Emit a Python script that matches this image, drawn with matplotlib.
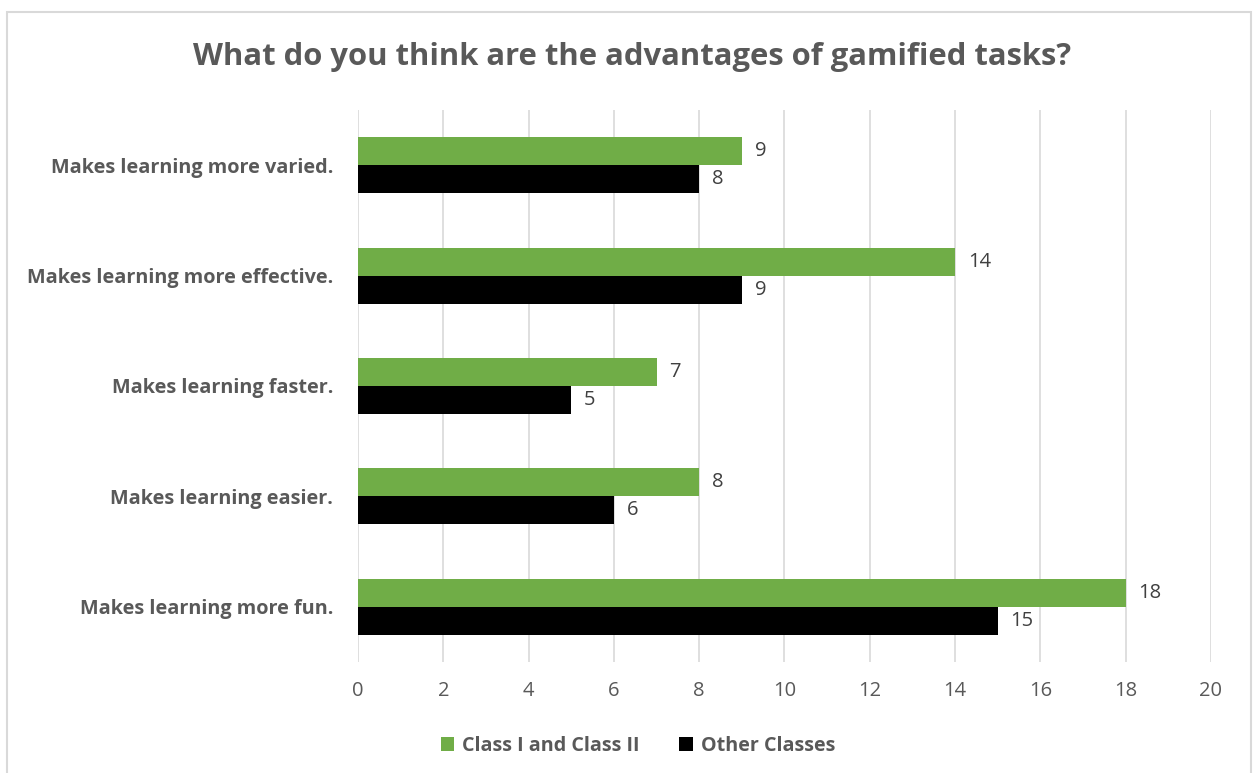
import matplotlib.pyplot as plt
from matplotlib.patches import Rectangle
import numpy as np

plt.rcParams['font.family'] = ['Open Sans', 'DejaVu Sans']

# survey answers, listed bottom to top
categories = ['Makes learning more fun.', 'Makes learning easier.',
              'Makes learning faster.', 'Makes learning more effective.',
              'Makes learning more varied.']
class_1_2 = [18, 8, 7, 14, 9]
other_classes = [15, 6, 5, 9, 8]
xticks = list(range(0, 21, 2))

W, H = 1257, 773
fig = plt.figure(figsize=(W / 100, H / 100), dpi=100)
ax = fig.add_axes([358 / W, 1 - 662 / H, (1211 - 358) / W, (662 - 110) / H])

# outer chart frame
fig.patches.append(Rectangle((7 / W, -0.05), (1251 - 7) / W, 1.05 - 12 / H,
                             transform=fig.transFigure, fill=False,
                             edgecolor='#d9d9d9', linewidth=1.5))

y = np.arange(len(categories))
h = 0.254
green = '#70ad47'
b1 = ax.barh(y + h / 2, class_1_2, height=h, color=green, label='Class I and Class II', zorder=3)
b2 = ax.barh(y - h / 2, other_classes, height=h, color='black', label='Other Classes', zorder=3)

for bars in (b1, b2):
    for rect in bars:
        v = rect.get_width()
        ax.text(v + 0.3, rect.get_y() + rect.get_height() / 2, f'{v:g}',
                va='center', ha='left', fontsize=14.5, color='#404040')

ax.set_xlim(0, 20)
ax.set_ylim(-0.5, len(categories) - 0.5)
ax.set_xticks(xticks)
ax.set_yticks(y)
ax.set_yticklabels(categories, fontsize=14.3, fontweight='bold', color='#595959')
ax.tick_params(axis='x', length=0, labelsize=14.5, labelcolor='#595959', pad=14)
ax.tick_params(axis='y', length=0, pad=18)
ax.grid(axis='x', color='#d9d9d9', linewidth=1.2, zorder=0)
for s in ax.spines.values():
    s.set_visible(False)

fig.text(632 / W, 1 - 57 / H, 'What do you think are the advantages of gamified tasks?',
         ha='center', va='center', fontsize=22.3, fontweight='bold', color='#595959')

handles, labels = ax.get_legend_handles_labels()
fig.legend(handles, labels, loc='center', bbox_to_anchor=(638 / W, 1 - 746 / H), ncol=2,
           frameon=False, prop={'size': 14.2, 'weight': 'bold'}, labelcolor='#595959',
           handlelength=0.7, handleheight=0.7, handletextpad=0.4, columnspacing=2.0)

fig.savefig('out.png', dpi=100)
